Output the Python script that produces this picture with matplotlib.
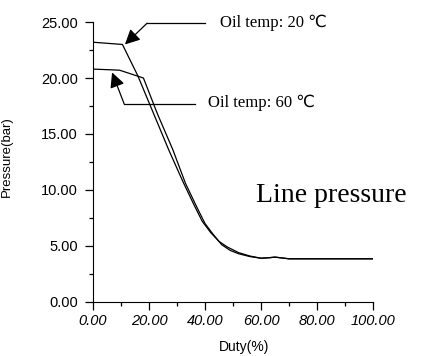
import matplotlib
matplotlib.use("Agg")
import matplotlib.pyplot as plt
from matplotlib.ticker import MultipleLocator, FormatStrFormatter

# 油温 20 ℃
duty_20 = [0, 10.5, 16, 22, 27, 32, 36, 39, 42, 45, 48, 52, 56, 60, 63, 65, 70, 80, 100]
press_20 = [23.2, 23.0, 20.2, 16.6, 13.6, 10.8, 8.7, 7.2, 6.2, 5.4, 4.9, 4.4, 4.1, 3.9,
            3.95, 4.0, 3.85, 3.85, 3.85]

# 油温 60 ℃
duty_60 = [0, 9.5, 18, 23, 28.5, 33, 37, 40, 43, 46, 49, 52, 56, 60, 63, 65, 70, 80, 100]
press_60 = [20.8, 20.7, 20.0, 16.8, 13.6, 10.6, 8.5, 7.0, 6.0, 5.1, 4.6, 4.3, 4.05, 3.9,
            3.95, 4.0, 3.85, 3.85, 3.85]

label_20 = "Oil temp: 20 \u2103"
label_60 = "Oil temp: 60 \u2103"
title_text = "Line pressure"

fig = plt.figure(figsize=(4.21, 3.56), dpi=100)
ax = fig.add_axes([0.221, 0.152, 0.665, 0.786])

ax.plot(duty_20, press_20, color="black", lw=0.9)
ax.plot(duty_60, press_60, color="black", lw=0.9)

ax.set_xlim(0, 100)
ax.set_ylim(0, 25)
ax.spines["top"].set_visible(False)
ax.spines["right"].set_visible(False)
ax.xaxis.set_major_locator(MultipleLocator(20))
ax.xaxis.set_minor_locator(MultipleLocator(10))
ax.yaxis.set_major_locator(MultipleLocator(5))
ax.yaxis.set_minor_locator(MultipleLocator(2.5))
ax.xaxis.set_major_formatter(FormatStrFormatter("%.2f"))
ax.yaxis.set_major_formatter(FormatStrFormatter("%.2f"))
ax.tick_params(which="major", length=5.8, width=0.9, direction="out")
ax.tick_params(which="minor", length=2.9, width=0.9, direction="out")
ax.tick_params(axis="y", pad=5)
ax.tick_params(axis="x", pad=3)

for lb in ax.get_xticklabels():
    lb.set_fontfamily("Liberation Sans")
    lb.set_fontstyle("italic")
    lb.set_fontsize(10.5)
for lb in ax.get_yticklabels():
    lb.set_fontfamily("Liberation Sans")
    lb.set_fontsize(10.5)

ax.set_ylabel("Pressure(bar)", family="Liberation Sans", fontsize=9.5)
ax.yaxis.set_label_coords(-0.285, 0.52)
ax.set_xlabel("Duty(%)", family="Liberation Sans", fontsize=10)
ax.xaxis.set_label_coords(0.54, -0.137)

# 标注箭头
arrow = dict(arrowstyle="-|>,head_length=0.9,head_width=0.45", color="black",
             lw=0.9, shrinkA=0, shrinkB=0)
ax.plot([19.3, 40], [24.9, 24.9], color="black", lw=0.9, clip_on=False)
ax.annotate("", xy=(11.4, 23.0), xytext=(19.3, 24.9), arrowprops=arrow,
            annotation_clip=False)
ax.plot([11.1, 36.4], [17.7, 17.7], color="black", lw=0.9)
ax.annotate("", xy=(6.8, 20.5), xytext=(11.1, 17.7), arrowprops=arrow)

serif = ["Liberation Serif", "DejaVu Sans"]
ax.text(45.4, 24.55, label_20, family=serif, fontsize=12, va="baseline",
        clip_on=False)
ax.text(41.1, 17.4, label_60, family=serif, fontsize=12, va="baseline")
ax.text(58.2, 8.93, title_text, family=serif, fontsize=20, va="baseline",
        clip_on=False)

fig.savefig("out.png", dpi=100)
